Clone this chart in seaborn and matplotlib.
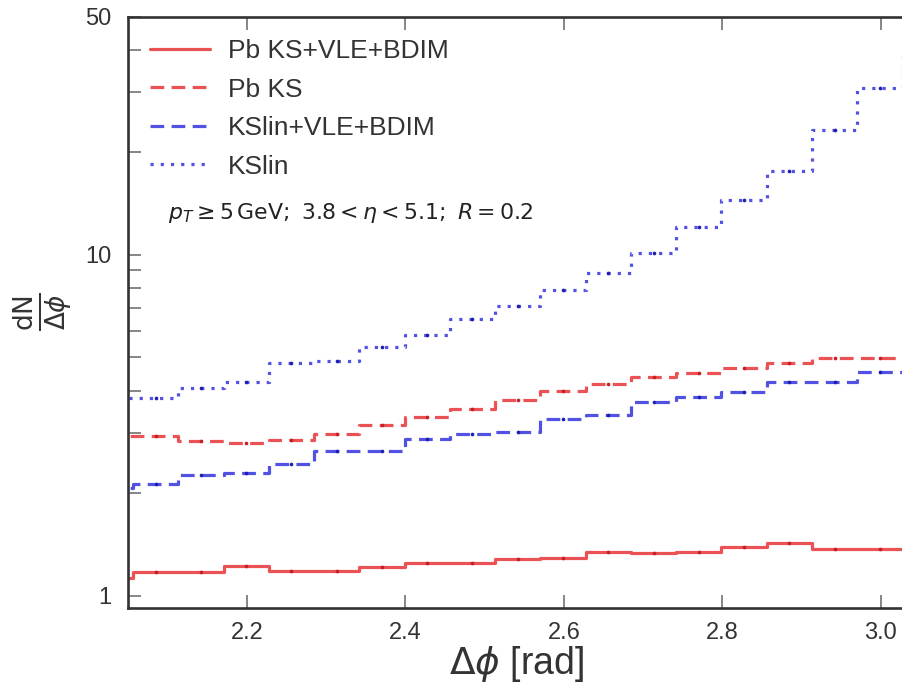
import numpy as np
import pandas as pd
import matplotlib
matplotlib.use("Agg")
import matplotlib.pyplot as plt
import matplotlib.ticker as mticker
import seaborn as sns

# bins are pi/55 wide, only bins 35..53 fall in the visible window
bin_index = np.arange(35, 54)
bin_width = np.pi / 55

pb_full = [1.125, 1.17, 1.175, 1.225, 1.185, 1.185, 1.21, 1.245, 1.245, 1.28,
           1.293, 1.34, 1.333, 1.344, 1.39, 1.43, 1.37, 1.375, 1.38]
pb_ks = [2.95, 2.95, 2.85, 2.80, 2.87, 2.99, 3.17, 3.35, 3.54, 3.75,
         3.98, 4.19, 4.39, 4.49, 4.66, 4.81, 4.97, 4.97, 5.0]
kslin_full = [2.07, 2.13, 2.26, 2.29, 2.44, 2.65, 2.65, 2.88, 2.98, 3.03,
              3.30, 3.40, 3.70, 3.83, 3.95, 4.23, 4.23, 4.53, 4.55]
kslin = [3.8, 3.8, 4.06, 4.25, 4.82, 4.88, 5.36, 5.84, 6.47, 7.08,
         7.88, 8.84, 10.1, 12.1, 14.5, 17.6, 23.3, 30.9, 40.0]

labels = ["Pb KS+VLE+BDIM", "Pb KS", "KSlin+VLE+BDIM", "KSlin"]
note = r"$p_T \geq 5\,\mathrm{GeV};\ 3.8 < \eta < 5.1;\ R = 0.2$"

RED = "#ea5256"
BLUE = "#5252e2"

sns.set_style("ticks")
plt.rcParams['font.family'] = ['Liberation Sans Narrow', 'Liberation Sans', 'DejaVu Sans']
plt.rcParams['mathtext.fontset'] = 'dejavusans'

edges = bin_index * bin_width
centers = edges + bin_width / 2
x_steps = np.append(edges, edges[-1] + bin_width)

fig = plt.figure(figsize=(9.02, 6.87), dpi=100)
# right spine sits just past the image edge, as in the cropped original
ax = fig.add_axes([0.1419, 0.1154, 0.861, 0.8603])

series = [
    (pb_full, RED, '-', "#c81e24"),
    (pb_ks, RED, (0, (4.3, 2.3)), "#c81e24"),
    (kslin_full, BLUE, (0, (4.3, 2.3)), "#1e1eb4"),
    (kslin, BLUE, (0, (1, 2.2)), "#1e1eb4"),
]

for (vals, col, ls, dot), lab in zip(series, labels):
    df = pd.DataFrame({"x": x_steps, "y": np.append(vals, vals[-1])})
    sns.lineplot(data=df, x="x", y="y", ax=ax, estimator=None, sort=False,
                 drawstyle="steps-post", color=col, linestyle=ls, linewidth=2.3,
                 label=lab)
    sns.scatterplot(x=centers, y=vals, ax=ax, color=dot, s=7, linewidth=0,
                    zorder=3, legend=False)

ax.set_yscale("log")
ax.set_xlim(2.05, 3.03)
ax.set_ylim(0.922, 50)

ax.xaxis.set_major_locator(mticker.FixedLocator([2.2, 2.4, 2.6, 2.8, 3.0]))
ax.xaxis.set_major_formatter(mticker.FormatStrFormatter("%.1f"))
ax.yaxis.set_major_locator(mticker.FixedLocator([1, 10, 50]))
ax.yaxis.set_major_formatter(mticker.FixedFormatter(["1", "10", "50"]))
ax.yaxis.set_minor_locator(mticker.LogLocator(base=10, subs=np.arange(2, 10)))
ax.yaxis.set_minor_formatter(mticker.NullFormatter())

ax.tick_params(which="both", direction="in", top=True, right=False,
               length=9.3, width=1.1, color="#666666", labelsize=17,
               labelcolor="#333333")
ax.tick_params(axis="x", pad=10)
ax.tick_params(axis="y", pad=12)

for sp in ax.spines.values():
    sp.set_linewidth(1.9)
    sp.set_color("#333333")

ax.set_xlabel(r"$\Delta\phi$ [rad]", fontsize=27, color="#333333", labelpad=0)
ax.set_ylabel(r"$\frac{\mathsf{dN}}{\mathsf{\Delta}\phi}$", fontsize=27, color="#333333",
              labelpad=8)

leg = ax.legend(loc="upper left", bbox_to_anchor=(0.0, 1.0), frameon=False,
                handlelength=2.27, handletextpad=0.68,
                labelspacing=0.55, borderaxespad=0.45, borderpad=0.4,
                prop={"family": ["Liberation Sans", "DejaVu Sans"], "size": 19})
for t in leg.get_texts():
    t.set_color("#333333")

ax.text(0.052, 0.668, note, transform=ax.transAxes, fontsize=15.8,
        color="#222222", va="center", ha="left")

fig.savefig("out.png", dpi=100)
